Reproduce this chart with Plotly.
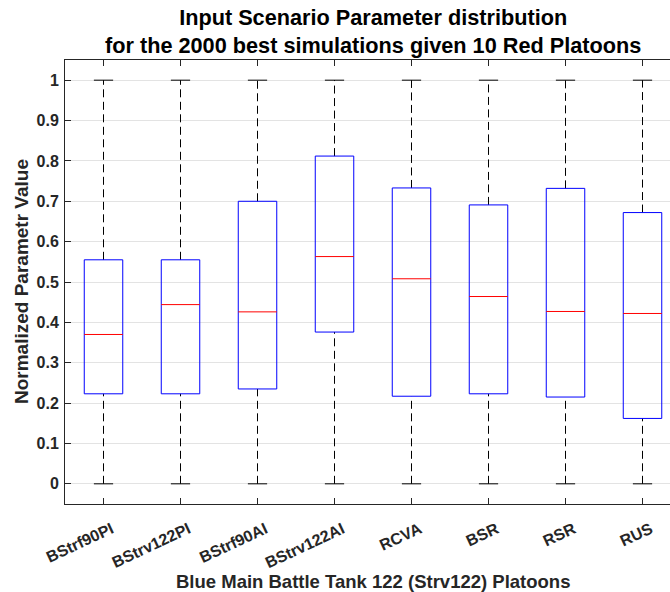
import plotly.graph_objects as go

# Scenario parameters (one box per parameter)
categories = ["BStrf90PI", "BStrv122PI", "BStrf90AI", "BStrv122AI",
              "RCVA", "BSR", "RSR", "RUS"]

# Box statistics of the normalized parameter values
q1 = [0.223, 0.223, 0.235, 0.376, 0.217, 0.223, 0.215, 0.162]
median = [0.370, 0.444, 0.426, 0.563, 0.508, 0.464, 0.427, 0.422]
q3 = [0.555, 0.555, 0.700, 0.812, 0.733, 0.691, 0.732, 0.672]
lower_whisker = [0.0, 0.0, 0.0, 0.0, 0.0, 0.0, 0.0, 0.0]
upper_whisker = [1.0, 1.0, 1.0, 1.0, 1.0, 1.0, 1.0, 1.0]

y_ticks = [0, 0.1, 0.2, 0.3, 0.4, 0.5, 0.6, 0.7, 0.8, 0.9, 1]
y_tick_text = ["0", "0.1", "0.2", "0.3", "0.4", "0.5", "0.6", "0.7", "0.8", "0.9", "1"]

BOX_HALF = 0.25
CAP_HALF = 0.125
FONT = "Liberation Sans, Arial, Helvetica, sans-serif"
AX_COLOR = "#262626"

positions = list(range(1, len(categories) + 1))

box_x, box_y = [], []
med_x, med_y = [], []
wh_x, wh_y = [], []
cap_x, cap_y = [], []
for p, a, m, b, lo, hi in zip(positions, q1, median, q3, lower_whisker, upper_whisker):
    box_x += [p - BOX_HALF, p + BOX_HALF, p + BOX_HALF, p - BOX_HALF, p - BOX_HALF, None]
    box_y += [a, a, b, b, a, None]
    med_x += [p - BOX_HALF, p + BOX_HALF, None]
    med_y += [m, m, None]
    wh_x += [p, p, None, p, p, None]
    wh_y += [b, hi, None, lo, a, None]
    cap_x += [p - CAP_HALF, p + CAP_HALF, None, p - CAP_HALF, p + CAP_HALF, None]
    cap_y += [hi, hi, None, lo, lo, None]

fig = go.Figure()
fig.add_trace(go.Scatter(x=wh_x, y=wh_y, mode="lines",
                         line=dict(color="black", width=1, dash="8px,4.5px"),
                         hoverinfo="skip", showlegend=False))
fig.add_trace(go.Scatter(x=cap_x, y=cap_y, mode="lines",
                         line=dict(color="black", width=1),
                         hoverinfo="skip", showlegend=False))
fig.add_trace(go.Scatter(x=box_x, y=box_y, mode="lines",
                         line=dict(color="#0000FF", width=1),
                         hoverinfo="skip", showlegend=False))
fig.add_trace(go.Scatter(x=med_x, y=med_y, mode="lines",
                         line=dict(color="#FF0000", width=1),
                         hoverinfo="skip", showlegend=False))

W, H = 670, 592
L, T, B = 65, 60, 88

fig.update_layout(
    width=W, height=H,
    margin=dict(l=L, r=0, t=T, b=B, pad=0),
    paper_bgcolor="white", plot_bgcolor="white",
    font=dict(family=FONT, color=AX_COLOR),
    showlegend=False,
    xaxis=dict(
        range=[0.5, 0.5 + (W - L) / 77.0],
        tickmode="array", tickvals=positions, ticktext=categories,
        tickangle=-25,
        tickfont=dict(size=16, family=FONT, color=AX_COLOR, weight="bold"),
        ticks="inside", ticklen=6, tickcolor=AX_COLOR, tickwidth=1,
        ticklabelshift=8, ticklabelstandoff=9,
        showline=True, linecolor=AX_COLOR, linewidth=1, mirror="ticks",
        showgrid=False, zeroline=False,
    ),
    yaxis=dict(
        range=[-0.05, 1.05],
        tickmode="array", tickvals=y_ticks, ticktext=y_tick_text,
        tickfont=dict(size=16, family=FONT, color=AX_COLOR, weight="bold"),
        ticks="inside", ticklen=6, tickcolor=AX_COLOR, tickwidth=1,
        ticklabelstandoff=2,
        showline=True, linecolor=AX_COLOR, linewidth=1, mirror=False,
        showgrid=True, gridcolor="#E3E3E3", gridwidth=1, zeroline=False,
    ),
    annotations=[
        dict(text="<b>Input Scenario Parameter distribution<br>"
                  "for the 2000 best simulations given 10 Red Platoons</b>",
             xref="paper", yref="paper",
             x=(373 - L) / (W - L), y=1, yshift=T - 3,
             xanchor="center", yanchor="top", showarrow=False,
             font=dict(size=21.7, family=FONT, color="black")),
        dict(text="<b>Blue Main Battle Tank 122 (Strv122) Platoons</b>",
             xref="paper", yref="paper",
             x=(373 - L) / (W - L), y=0, yshift=-(581 - (H - B)),
             xanchor="center", yanchor="middle", showarrow=False,
             font=dict(size=18.5, family=FONT, color=AX_COLOR)),
        dict(text="<b>Normalized Parametr Value</b>",
             xref="paper", yref="paper",
             x=0, y=0.5, xshift=-(L - 21),
             xanchor="center", yanchor="middle", textangle=-90, showarrow=False,
             font=dict(size=19, family=FONT, color=AX_COLOR)),
    ],
)

fig.write_html("out.html")
